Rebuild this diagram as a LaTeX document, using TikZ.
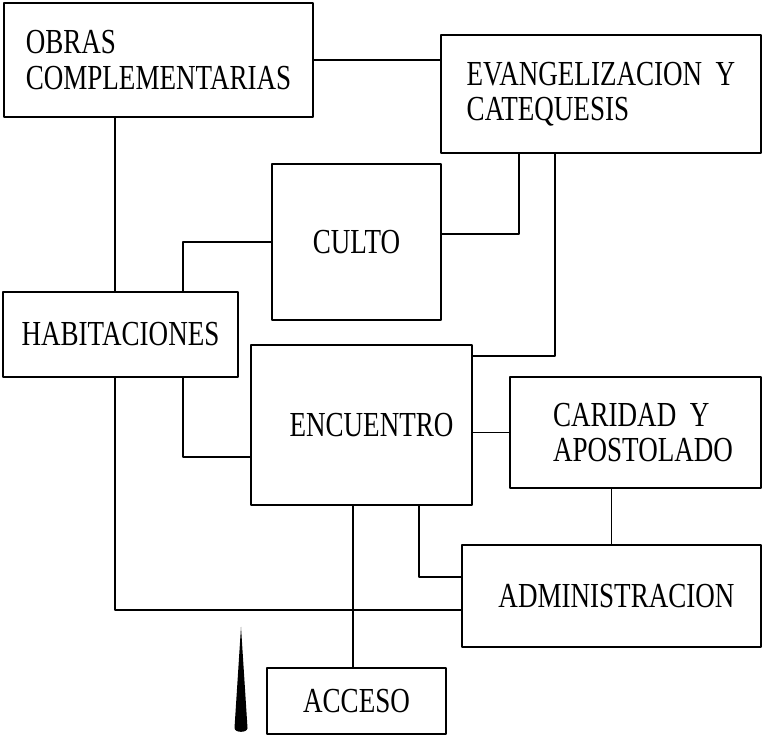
\documentclass[tikz,border=0pt]{standalone}
\usepackage{fontspec}
\setmainfont[FakeStretch=0.77]{Liberation Serif}
\begin{document}
\begin{tikzpicture}[line width=0.8pt, line join=round, line cap=round,
		caja/.style={draw, rectangle, inner sep=2pt, align=left, font=\fontsize{20}{20}\selectfont}]
			\useasboundingbox (0,0) rectangle (15.24,14.72);
			\node[caja, minimum width=6.18cm, minimum height=2.28cm] (obras) at (3.17,13.52) {OBRAS\\COMPLEMENTARIAS};
			\node[caja, minimum width=6.40cm, minimum height=2.36cm] (evang) at (12.02,12.84) {EVANGELIZACION\ \ Y\\CATEQUESIS};
			\node[caja, minimum width=3.38cm, minimum height=3.12cm] (culto) at (7.13,9.88) {CULTO};
			\node[caja, minimum width=4.70cm, minimum height=1.70cm] (habit) at (2.41,8.03) {HABITACIONES};
			\node[caja, minimum width=4.42cm, minimum height=3.20cm] (encuentro) at (7.23,6.22) {\hspace*{0.4cm}ENCUENTRO};
			\node[caja, minimum width=5.02cm, minimum height=2.22cm] (caridad) at (12.71,6.07) {\hspace*{0.3cm}CARIDAD\ \ Y\\\hspace*{0.3cm}APOSTOLADO};
			\node[caja, minimum width=5.98cm, minimum height=2.04cm] (admin) at (12.23,2.80) {\hspace*{0.2cm}ADMINISTRACION};
			\node[caja, minimum width=3.58cm, minimum height=1.32cm] (acceso) at (7.13,0.70) {ACCESO};
			% conexiones
			\draw (obras.east) -- (obras.east -| evang.west);
			\draw ([xshift=-0.11cm]habit.north) -- ([xshift=-0.11cm]habit.north |- obras.south);
			\draw ([yshift=0.16cm]culto.east) -| ([xshift=-1.64cm]evang.south);
			\draw ([yshift=1.38cm]encuentro.east) -| ([xshift=-0.92cm]evang.south);
			\draw (culto.west) -| ([xshift=1.25cm]habit.north);
			\draw ([xshift=1.25cm]habit.south) |- ([yshift=-0.64cm]encuentro.west);
			\draw (caridad.west) -- (caridad.west -| encuentro.east);
			\draw (admin.north) -- (admin.north |- caridad.south);
			\draw ([xshift=1.15cm]encuentro.south) |- ([yshift=0.38cm]admin.west);
			\draw ([xshift=-0.11cm]habit.south) |- ([yshift=-0.28cm]admin.west);
			\draw ([xshift=-0.17cm]encuentro.south) -- ([xshift=-0.17cm]encuentro.south |- acceso.north);
			% flecha de acceso
			\fill (4.82,2.18) -- (4.95,0.16) to[out=-90,in=-90] (4.69,0.16) -- cycle;
		\end{tikzpicture}
\end{document}
